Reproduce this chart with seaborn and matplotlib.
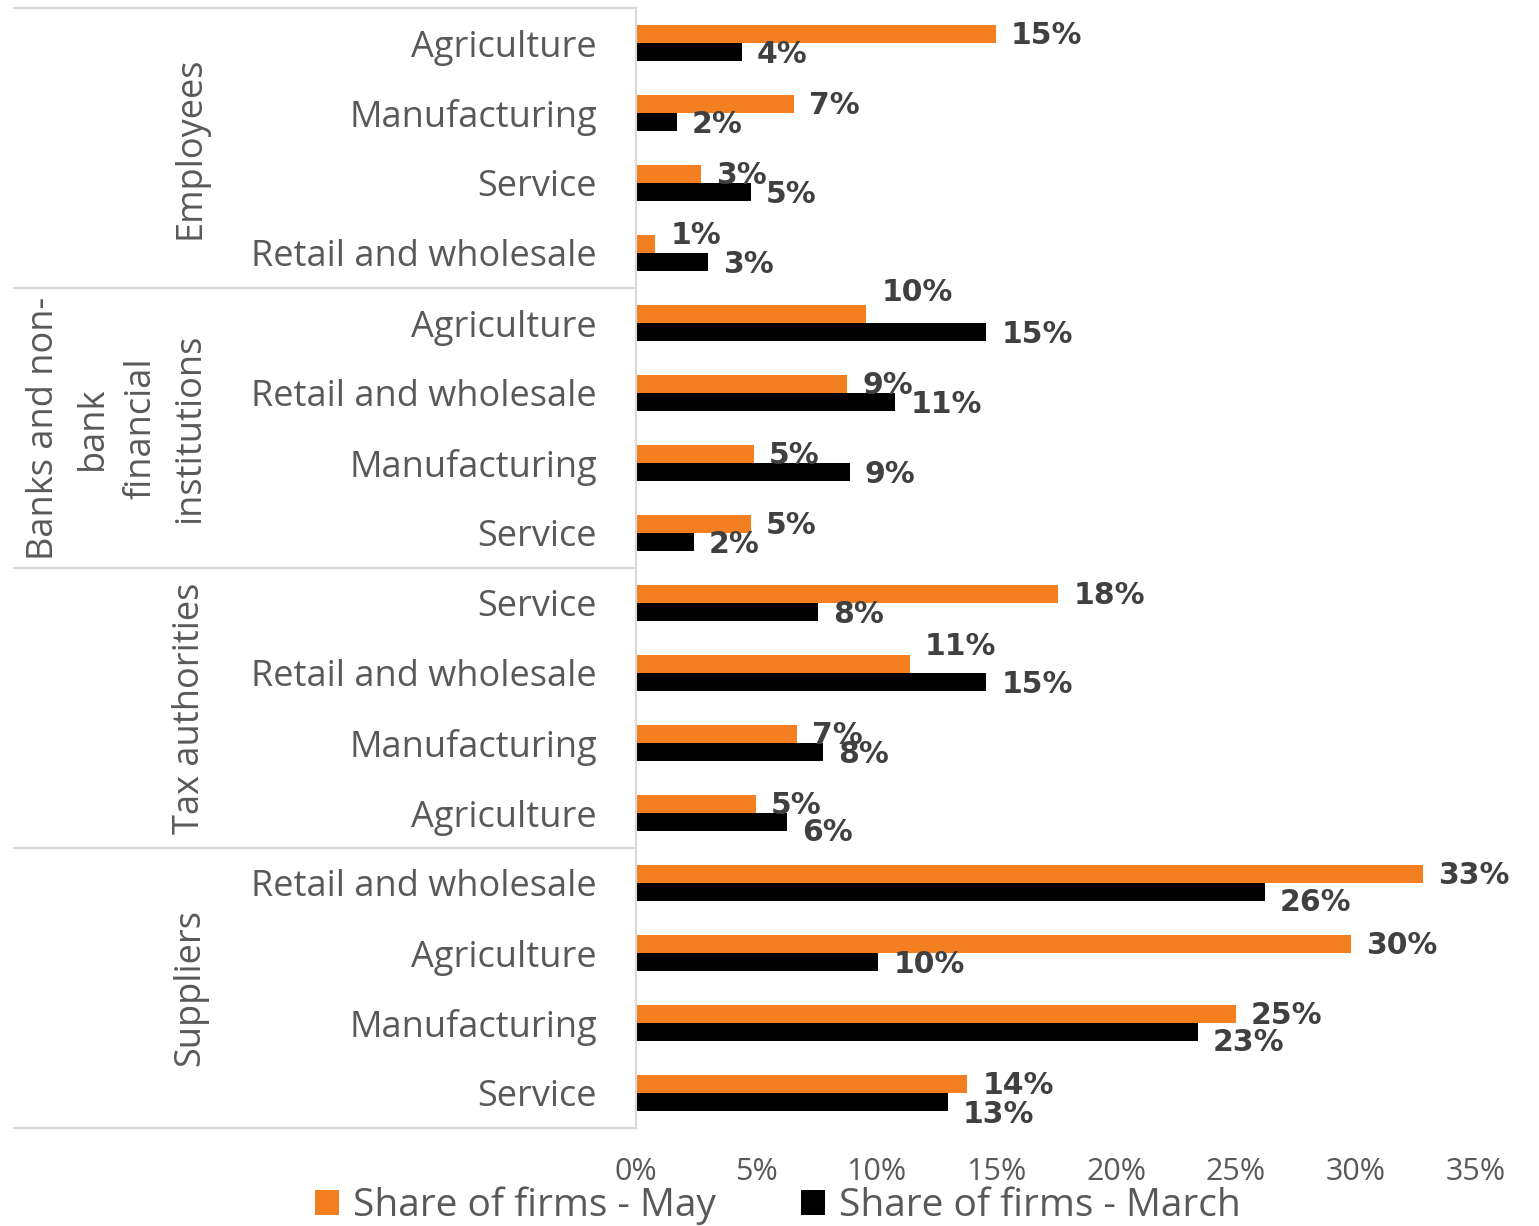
import matplotlib
matplotlib.use("Agg")
import matplotlib.pyplot as plt
import seaborn as sns
import pandas as pd
from matplotlib.patches import Patch

# ---- data -------------------------------------------------------------
groups = [
    "Employees",
    "Banks and non-\nbank\nfinancial\ninstitutions",
    "Tax authorities",
    "Suppliers",
]
sectors = [
    ["Agriculture", "Manufacturing", "Service", "Retail and wholesale"],
    ["Agriculture", "Retail and wholesale", "Manufacturing", "Service"],
    ["Service", "Retail and wholesale", "Manufacturing", "Agriculture"],
    ["Retail and wholesale", "Agriculture", "Manufacturing", "Service"],
]
share_may = [15.0, 6.6, 2.7, 0.8,
             9.6, 8.8, 4.9, 4.8,
             17.6, 11.4, 6.7, 5.0,
             32.8, 29.8, 25.0, 13.8]
share_march = [4.4, 1.7, 4.8, 3.0,
               14.6, 10.8, 8.9, 2.4,
               7.6, 14.6, 7.8, 6.3,
               26.2, 10.1, 23.4, 13.0]
series_names = ["Share of firms - May", "Share of firms - March"]
x_ticks = [0, 5, 10, 15, 20, 25, 30, 35]

# ---- long-form table --------------------------------------------------
rows, sector_labels = [], []
for g, secs in zip(groups, sectors):
    for s in secs:
        rows.append(f"{g}|{s}")
        sector_labels.append(s)

df = pd.DataFrame({
    "row": rows * 2,
    "series": [series_names[0]] * len(rows) + [series_names[1]] * len(rows),
    "value": share_may + share_march,
})

# ---- style ------------------------------------------------------------
ORANGE = "#F47F20"
BLACK = "#000000"
GRID = "#D9D9D9"
TEXT = "#595959"
LABEL = "#404040"

sns.set_theme(style="white")
plt.rcParams["font.family"] = ["Open Sans", "DejaVu Sans"]

W, H = 1539, 1226
fig = plt.figure(figsize=(W / 100, H / 100), dpi=100)
x0, x1 = 636, 1476
y0, y1 = 8, 1128
ax = fig.add_axes([x0 / W, 1 - y1 / H, (x1 - x0) / W, (y1 - y0) / H])

sns.barplot(data=df, x="value", y="row", hue="series", order=rows,
            hue_order=series_names, palette=[ORANGE, BLACK], orient="h",
            width=0.52, linewidth=0, saturation=1, ax=ax, legend=False)

ax.set_xlim(0, 35)
ax.set_ylim(len(rows) - 0.5, -0.5)
ax.set_xlabel("")
ax.set_ylabel("")
ax.set_xticks(x_ticks)
ax.set_xticklabels([f"{t}%" for t in x_ticks], fontsize=22, color=TEXT)
ax.set_yticks(range(len(rows)))
ax.set_yticklabels(sector_labels, fontsize=26, color=TEXT)
ax.tick_params(axis="y", length=0, pad=28)
ax.tick_params(axis="x", length=0, pad=21)
for side in ["top", "right", "bottom"]:
    ax.spines[side].set_visible(False)
ax.spines["left"].set_color(GRID)
ax.spines["left"].set_linewidth(1.5)

# ---- value labels -----------------------------------------------------
# vertical nudges (in px, positive = downwards) for crowded labels
nudge = {
    (3, 0): -8, (4, 0): -21, (9, 0): -17,
    (11, 1): 10, (12, 1): 10, (14, 1): 10, (15, 1): 12,
}
for j, vals in enumerate([share_may, share_march]):
    cont = ax.containers[j]
    for i, (bar, v) in enumerate(zip(cont, vals)):
        yc = bar.get_y() + bar.get_height() / 2
        dy = nudge.get((i, j), 2)
        ax.annotate(f"{v:.0f}%", xy=(bar.get_width(), yc),
                    xytext=(15 * 0.72, -dy * 0.72), textcoords="offset points",
                    ha="left", va="center", fontsize=21.5, fontweight="bold",
                    color=LABEL, family="DejaVu Sans")

# ---- group separators and group labels --------------------------------
tr = ax.get_yaxis_transform()
left_frac = (14 - x0) / (x1 - x0)
for yb in [-0.5, 3.5, 7.5, 11.5, 15.5]:
    ax.plot([left_frac, 0], [yb, yb], color=GRID, lw=1.5,
            transform=tr, clip_on=False)

label_x = (208 - x0) / (x1 - x0)
for k, g in enumerate(groups):
    ax.text(label_x, 4 * k + 1.5, g, transform=tr, rotation=90,
            ha="right", va="center", multialignment="center",
            fontsize=26, color=TEXT, linespacing=1.47)

# ---- legend -----------------------------------------------------------
handles = [Patch(facecolor=ORANGE, edgecolor="none"),
           Patch(facecolor=BLACK, edgecolor="none")]
fig.legend(handles, series_names, loc="center",
           bbox_to_anchor=(778 / W, 1 - 1206 / H), ncol=2, frameon=False,
           prop={"size": 28}, labelcolor=TEXT,
           handlelength=0.62, handleheight=0.62,
           handletextpad=0.35, columnspacing=2.2, borderpad=0)

fig.savefig("out.png", dpi=100)
